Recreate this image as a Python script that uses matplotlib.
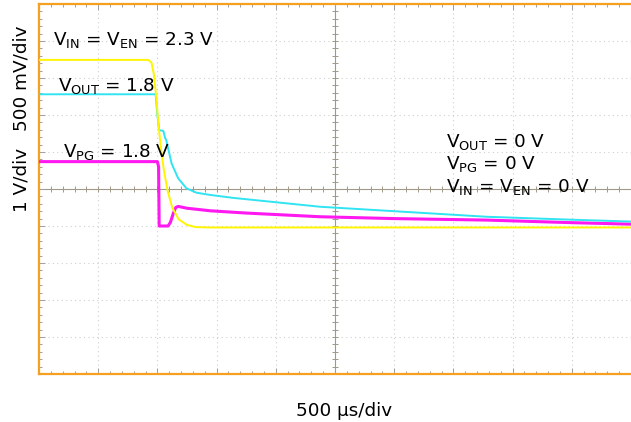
import numpy as np
import matplotlib
matplotlib.use('Agg')
import matplotlib.pyplot as plt

plt.rcParams['font.family'] = ['DejaVu Sans']
plt.rcParams['mathtext.fontset'] = 'dejavusans'

# ---- data, in screen divisions (x: 500 us/div, y: divisions from bottom) ----
vin_t = [0, 1.84, 1.90, 1.94, 1.98, 2.02, 2.06, 2.11, 2.17, 2.25, 2.36, 2.50, 2.65, 2.90, 10]
vin_v = [8.49, 8.49, 8.42, 8.10, 7.50, 6.70, 6.10, 5.50, 4.97, 4.50, 4.18, 4.03, 3.97, 3.96, 3.96]

vout_t = [0, 1.97, 2.00, 2.03, 2.10, 2.13, 2.15, 2.24, 2.35, 2.49, 2.66, 2.89, 3.28, 4.75, 6.0, 7.56, 9.0, 10]
vout_v = [7.56, 7.56, 7.0, 6.59, 6.57, 6.38, 6.32, 5.69, 5.29, 5.02, 4.90, 4.84, 4.76, 4.52, 4.40, 4.25, 4.17, 4.12]

vpg_t = [0, 2.00, 2.02, 2.03, 2.18, 2.22, 2.27, 2.31, 2.35, 2.50, 2.90, 3.50, 4.75, 6.0, 7.56, 9.0, 10]
vpg_v = [5.74, 5.74, 5.60, 4.00, 4.00, 4.10, 4.35, 4.50, 4.53, 4.48, 4.41, 4.35, 4.25, 4.20, 4.16, 4.09, 4.05]

labels_left = [r'V$_{\mathrm{IN}}$ = V$_{\mathrm{EN}}$ = 2.3 V',
               r'V$_{\mathrm{OUT}}$ = 1.8 V',
               r'V$_{\mathrm{PG}}$ = 1.8 V']
labels_right = [r'V$_{\mathrm{OUT}}$ = 0 V',
                r'V$_{\mathrm{PG}}$ = 0 V',
                r'V$_{\mathrm{IN}}$ = V$_{\mathrm{EN}}$ = 0 V']
ylabel_top = '500 mV/div'
ylabel_bot = '1 V/div'
xlabel = '500 µs/div'

W, H = 631, 422
fig = plt.figure(figsize=(W / 100, H / 100), dpi=100)
ax = fig.add_axes([39 / W, 48 / H, 592 / W, 370 / H])
ax.set_xlim(0, 10)
ax.set_ylim(0, 10)

orange = '#F5A020'
grid_c = '#CFCFCF'
cross_c = '#A09888'

for s in ['left', 'bottom', 'top']:
    ax.spines[s].set_color(orange)
    ax.spines[s].set_linewidth(1.6)
ax.spines['right'].set_visible(False)

ax.set_xticks(np.arange(0, 11, 1))
ax.set_yticks(np.arange(0, 11, 1))
ax.set_xticks(np.arange(0, 10.01, 0.2), minor=True)
ax.set_yticks(np.arange(0, 10.01, 0.2), minor=True)
ax.tick_params(which='both', direction='in', top=True, bottom=True, left=True, right=False,
               labelbottom=False, labelleft=False, color='#A0A0A0', width=0.7)
ax.tick_params(which='major', length=4.5)
ax.tick_params(which='minor', length=2.5)

# dotted grid
for g in range(1, 10):
    if g == 5:
        continue
    ax.axvline(g, color=grid_c, lw=0.8, ls=(0, (1, 3)), zorder=0)
    ax.axhline(g, color=grid_c, lw=0.8, ls=(0, (1, 3)), zorder=0)
# center crosshair with ticks
ax.axvline(5, color=cross_c, lw=0.8, zorder=0.5)
ax.axhline(5, color=cross_c, lw=0.8, zorder=0.5)
mt = np.arange(0, 10.01, 0.2)
ax.vlines(mt, 5 - 0.08, 5 + 0.08, color=cross_c, lw=0.7, zorder=0.5)
ax.hlines(mt, 5 - 0.05, 5 + 0.05, color=cross_c, lw=0.7, zorder=0.5)

ax.plot(vpg_t, vpg_v, color='#FF18F0', lw=2.2, zorder=3, solid_joinstyle='round')
ax.plot(vout_t, vout_v, color='#30E4F2', lw=1.4, zorder=4, solid_joinstyle='round')
ax.plot(vin_t, vin_v, color='#FFF500', lw=1.4, zorder=5, solid_joinstyle='round')

fs = 13.2
def fx(px):
    return px / W
def fy(py):
    return 1 - py / H

fig.text(fx(53), fy(45), labels_left[0], fontsize=fs, va='baseline', ha='left')
fig.text(fx(58), fy(91.5), labels_left[1], fontsize=fs, va='baseline', ha='left')
fig.text(fx(63), fy(156.5), labels_left[2], fontsize=fs, va='baseline', ha='left')
for i, lab in enumerate(labels_right):
    fig.text(fx(446.5), fy(146.5 + 22.6 * i), lab, fontsize=fs, va='baseline', ha='left')

fig.text(fx(22), fy(78), ylabel_top, fontsize=fs, rotation=90, va='center', ha='center')
fig.text(fx(22), fy(180), ylabel_bot, fontsize=fs, rotation=90, va='center', ha='center')
fig.text(fx(344), fy(416), xlabel, fontsize=fs, va='baseline', ha='center')

fig.savefig('out.png', dpi=100, facecolor='white')
